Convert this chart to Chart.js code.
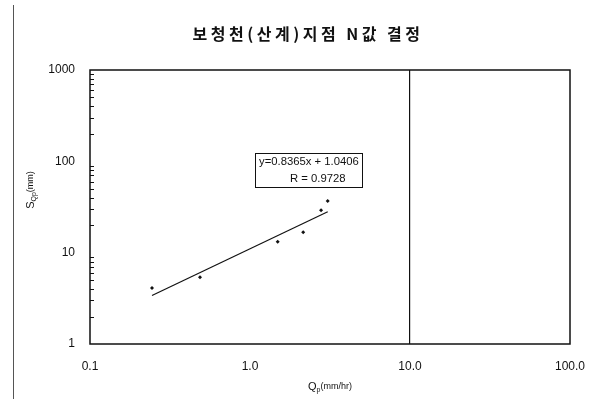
<!DOCTYPE html>
<html>
<head>
<meta charset="utf-8">
<script src="https://cdn.jsdelivr.net/npm/chart.js@4"></script>
<style>
html,body{margin:0;padding:0;background:#fff;}
#wrap{position:relative;width:592px;height:399px;}
</style>
</head>
<body>
<div id="wrap"><canvas id="c" width="592" height="399"></canvas></div>
<script>
// ---- data ----
const chartTitle = "보청천(산계)지점 N값 결정";
const qpValues  = [0.244, 0.487, 1.49, 2.15, 2.78, 3.06];   // Qp (mm/hr)
const sqpValues = [4.1, 5.37, 13.2, 16.7, 29.1, 36.8];       // SQp (mm)
const trendX = [0.244, 3.06];
const trendY = [3.4, 28.0];
const xTicks = [0.1, 1, 10, 100];
const xTickLabels = ["0.1", "1.0", "10.0", "100.0"];
const yTicks = [1, 10, 100, 1000];
const yTickLabels = ["1", "10", "100", "1000"];
const fitLines = ["y=0.8365x + 1.0406", "R = 0.9728"];

const FONT = '"Liberation Sans", Arial, sans-serif';

const decorPlugin = {
  id: 'decor',
  beforeDraw(chart) {
    const ctx = chart.ctx;
    ctx.save();
    ctx.fillStyle = '#fff';
    ctx.fillRect(0, 0, chart.width, chart.height);
    // scan page edge line
    ctx.strokeStyle = '#555';
    ctx.lineWidth = 1;
    ctx.beginPath(); ctx.moveTo(13.5, 5); ctx.lineTo(13.5, 399); ctx.stroke();
    ctx.restore();
  },
  afterDraw(chart) {
    const ctx = chart.ctx, a = chart.chartArea;
    const ys = chart.scales.y;
    ctx.save();
    // frame
    ctx.strokeStyle = '#111';
    ctx.lineWidth = 1.5;
    ctx.strokeRect(a.left, a.top, a.right - a.left, a.bottom - a.top);
    // minor y ticks inside plot
    ctx.lineWidth = 1;
    for (let d = 0; d < yTicks.length - 1; d++) {
      for (let m = 2; m <= 9; m++) {
        const py = Math.round(ys.getPixelForValue(yTicks[d] * m)) + 0.5;
        ctx.beginPath(); ctx.moveTo(a.left, py); ctx.lineTo(a.left + 4, py); ctx.stroke();
      }
    }
    // title
    ctx.fillStyle = '#111';
    ctx.font = 'bold 16px "Noto Sans CJK KR", sans-serif';
    ctx.letterSpacing = '3.5px';
    ctx.textAlign = 'center';
    ctx.textBaseline = 'middle';
    ctx.fillText(chartTitle, 308, 34);
    ctx.letterSpacing = '0px';
    // x axis title Q_p(mm/hr)
    const xt = [['Q', 11, 0], ['p', 7, 3], ['(mm/hr)', 9, 0]];
    drawRich(ctx, xt, 330, 387);
    // y axis title S_Qp(mm)
    ctx.translate(31, 190);
    ctx.rotate(-Math.PI / 2);
    const yt = [['S', 11, 0], ['Qp', 7, 3], ['(mm)', 9, 0]];
    drawRich(ctx, yt, 0, 0);
    ctx.restore();
    // regression text box
    ctx.save();
    ctx.fillStyle = '#fff';
    ctx.fillRect(255, 153, 107, 34);
    ctx.strokeStyle = '#111';
    ctx.lineWidth = 1;
    ctx.strokeRect(255.5, 153.5, 107, 34);
    ctx.fillStyle = '#111';
    ctx.font = '11.3px ' + FONT;
    ctx.textBaseline = 'middle';
    ctx.textAlign = 'left';
    ctx.fillText(fitLines[0], 259, 162);
    ctx.fillText(fitLines[1], 290, 179);
    ctx.restore();
  }
};

function drawRich(ctx, parts, cx, cy) {
  let total = 0;
  parts.forEach(p => { ctx.font = p[1] + 'px ' + FONT; total += ctx.measureText(p[0]).width; });
  let x = cx - total / 2;
  ctx.textAlign = 'left';
  ctx.textBaseline = 'middle';
  ctx.fillStyle = '#111';
  parts.forEach(p => {
    ctx.font = p[1] + 'px ' + FONT;
    ctx.fillText(p[0], x, cy + p[2]);
    x += ctx.measureText(p[0]).width;
  });
}

new Chart(document.getElementById('c'), {
  type: 'scatter',
  data: {
    datasets: [
      {
        label: 'obs',
        data: qpValues.map((v, i) => ({ x: v, y: sqpValues[i] })),
        pointStyle: 'rectRot',
        pointRadius: 2,
        backgroundColor: '#111',
        borderColor: '#111',
        borderWidth: 0,
        showLine: false
      },
      {
        label: 'trend',
        data: trendX.map((v, i) => ({ x: v, y: trendY[i] })),
        showLine: true,
        pointRadius: 0,
        borderColor: '#111',
        borderWidth: 1.2,
        fill: false
      }
    ]
  },
  options: {
    responsive: false,
    animation: false,
    events: [],
    layout: { padding: { left: 0, right: 22, top: 70, bottom: 0 } },
    plugins: { legend: { display: false }, title: { display: false }, tooltip: { enabled: false } },
    scales: {
      x: {
        type: 'logarithmic',
        min: 0.1, max: 100,
        afterBuildTicks: s => { s.ticks = xTicks.map(v => ({ value: v })); },
        afterFit: s => { s.height = 55; s.paddingLeft = 0; s.paddingRight = 0; },
        border: { display: false },
        grid: {
          drawTicks: false,
          color: c => (c.tick && c.tick.value === 10) ? '#111' : 'rgba(0,0,0,0)',
          lineWidth: 1.2
        },
        ticks: {
          padding: 15,
          maxRotation: 0,
          autoSkip: false,
          color: '#111',
          font: { family: FONT, size: 12 },
          callback: (v) => { const i = xTicks.indexOf(v); return i >= 0 ? xTickLabels[i] : ''; }
        }
      },
      y: {
        type: 'logarithmic',
        min: 1, max: 1000,
        afterBuildTicks: s => { s.ticks = yTicks.map(v => ({ value: v })); },
        afterFit: s => { s.width = 90; s.paddingTop = 0; s.paddingBottom = 0; },
        border: { display: false },
        grid: { display: false, drawTicks: false },
        ticks: {
          padding: 15,
          autoSkip: false,
          color: '#111',
          font: { family: FONT, size: 12 },
          callback: (v) => { const i = yTicks.indexOf(v); return i >= 0 ? yTickLabels[i] : ''; }
        }
      }
    }
  },
  plugins: [decorPlugin]
});
</script>
</body>
</html>
